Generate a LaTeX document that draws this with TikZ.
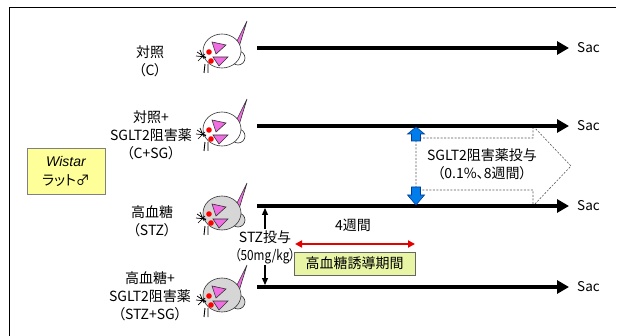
\documentclass[tikz,border=0pt]{standalone}
\usepackage{fontspec}
\setmainfont{Noto Sans CJK JP}[RawFeature=+palt]
\newfontfamily\narrowfont{Noto Sans CJK JP}[RawFeature=+palt, FakeStretch=0.84]
\newfontfamily\arialfont{Liberation Sans}
\usetikzlibrary{arrows.meta}

\definecolor{ratgray}{RGB}{214,214,214}
\definecolor{earpink}{RGB}{240,110,225}
\definecolor{boxyellow}{RGB}{255,255,153}
\definecolor{boxgreen}{RGB}{232,245,165}
\definecolor{dosefill}{RGB}{0,125,235}
\definecolor{doseline}{RGB}{0,60,150}

\tikzset{
  lbl/.style={font=\fontsize{14}{18}\selectfont, align=center, inner sep=0pt},
  sac/.style={font=\fontsize{13.5}{15}\selectfont, anchor=west, inner sep=0pt},
  timeline/.style={line width=4pt, -{Triangle[length=12pt,width=13pt]}},
  ratline/.style={draw=black!80, line width=0.6pt},
  dosearrow/.style={draw=doseline, fill=dosefill, line width=0.6pt},
  stzarrow/.style={line width=1.3pt, -{Triangle[length=7pt,width=6pt]}},
  period/.style={draw=red!90!black, line width=1.8pt, {Triangle[length=7pt,width=7pt]}-{Triangle[length=7pt,width=7pt]}},
  pics/rat/.style={code={
    % tail
    \draw[ratline, fill=earpink] (13,-6) -- (25,-30) -- (17,-4) -- cycle;
    % haunch behind the head
    \draw[ratline, fill=#1] (16,7) circle (7pt);
    % head
    \draw[ratline, fill=#1] (0,0) ellipse (19pt and 17pt);
    % ears
    \draw[ratline, fill=earpink] (-10,-9) -- (4,-6) -- (-6,3) -- cycle;
    \draw[ratline, fill=earpink] (-9,6) -- (6,6) -- (-3,15) -- cycle;
    % eyes
    \fill[red] (-13,1) circle (2.8pt);
    \fill[red] (-11,10) circle (2.8pt);
    % whiskers
    \draw[black, line width=0.7pt] (-25,1) -- (-16,7) (-26,5) -- (-16,6) (-24,10) -- (-17,3) (-22,-1) -- (-18,8);
    % feet
    \draw[black, line width=0.9pt] (-17,13) -- (-18,22) (-14,13) -- (-14,22);
  }}
}

\begin{document}
\begin{tikzpicture}[x=1pt, y=-1pt]
  \useasboundingbox (0,0) rectangle (617,336);

  % outer frame
  \draw[line width=1pt] (9,336) -- (9,8) -- (616,8);

  % strain box
  \node[draw=black!50, fill=boxyellow, minimum width=78pt, minimum height=46pt,
        align=center, inner sep=0pt, font=\fontsize{14}{19}\selectfont] (wistar) at (66,171)
        {{\arialfont\itshape Wistar}\\ラット♂};

  % group labels
  \node[lbl] (g1) at (150,61) {対照\\（C）};
  \node[lbl] (g2) at (151,135) {対照+\\SGLT2阻害薬\\（C+SG）};
  \node[lbl] (g3) at (152,221) {高血糖\\（STZ）};
  \node[lbl] (g4) at (150,296) {高血糖+\\SGLT2阻害薬\\（STZ+SG）};

  % rats
  \pic at (222,51) {rat=white};
  \pic at (222,129) {rat=white};
  \pic at (222,213) {rat=ratgray};
  \pic at (222,295) {rat=ratgray};

  % timelines
  \coordinate (s1) at (257,48);  \coordinate (e1) at (569,48);
  \coordinate (s2) at (257,126); \coordinate (e2) at (569,126);
  \coordinate (s3) at (257,206); \coordinate (e3) at (569,206);
  \coordinate (s4) at (257,287); \coordinate (e4) at (569,287);
  \node[sac] (sac1) at (577,48) {Sac};
  \node[sac] (sac2) at (577,126) {Sac};
  \node[sac] (sac3) at (577,206) {Sac};
  \node[sac] (sac4) at (577,287) {Sac};

  % SGLT2 inhibitor treatment window (dashed outline arrow)
  \draw[gray!70!black, line width=0.6pt, dash pattern=on 2pt off 1.5pt]
    (416,138) -- (533,138) -- (533,126) -- (571,166) -- (533,206) -- (533,190) -- (416,190) -- cycle;
  \node[lbl] (sgdose) at (482,164) {SGLT2阻害薬投与\\（0.1\%、8週間）};

  \draw[timeline] (s1) -- (e1);
  \draw[timeline] (s2) -- (e2);
  \draw[timeline] (s3) -- (e3);
  \draw[timeline] (s4) -- (e4);

  % start of inhibitor dosing
  \draw[dosearrow] (416,127) -- (424.5,134) -- (420.5,134) -- (420.5,141) -- (411.5,141) -- (411.5,134) -- (407.5,134) -- cycle;
  \draw[dosearrow] (416,205) -- (424.5,195) -- (420.5,195) -- (420.5,187) -- (411.5,187) -- (411.5,195) -- (407.5,195) -- cycle;

  % STZ injection
  \node[lbl] (stz) at (265,247) {STZ投与\\{\narrowfont （50mg/kg）}};
  \coordinate (a3) at (265,208);
  \coordinate (a4) at (265,285);
  \draw[stzarrow] (stz.north) ++(0,-1) -- (a3);
  \draw[stzarrow] (stz.south) ++(0,1) -- (a4);

  % induction period
  \node[lbl] (wk4) at (353,225) {4週間};
  \node[draw=black!60, fill=boxgreen, minimum width=121pt, minimum height=23pt,
        inner sep=0pt, font=\fontsize{14}{15}\selectfont] (induct) at (354.5,263.5) {高血糖誘導期間};
  \coordinate (p0) at (295,244);
  \coordinate (p1) at (415,244);
  \draw[period] (p0) -- (p1);
\end{tikzpicture}
\end{document}
